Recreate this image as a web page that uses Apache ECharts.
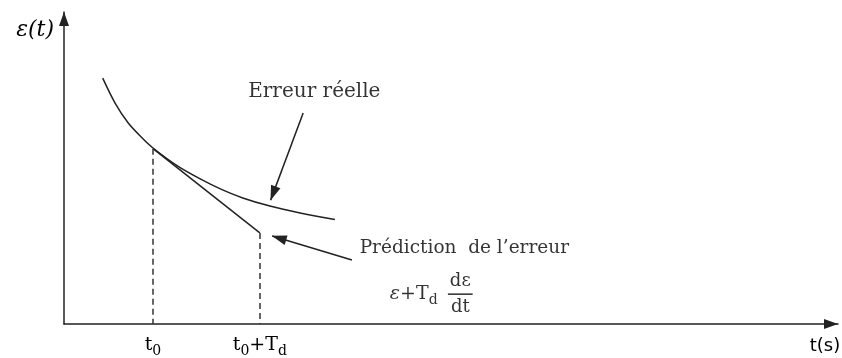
<!DOCTYPE html>
<html>
<head>
<meta charset="utf-8">
<script src="https://cdn.jsdelivr.net/npm/echarts@6/dist/echarts.min.js"></script>
<style>
html, body { margin: 0; padding: 0; background: #fff; }
#chart { width: 842px; height: 358px; }
</style>
</head>
<body>
<div id="chart"></div>
<script>
// erreur réelle, points (unités arbitraires 0..100)
var errX = [5.0, 6.6, 8.3, 10.1, 11.5, 14.7, 17.6, 20.2, 23.1, 26.6, 30.5, 35.0];
var errY = [78.8, 70.8, 64.4, 59.6, 56.4, 50.6, 46.5, 43.3, 40.4, 37.8, 35.6, 33.5];
// instants t0 et t0+Td sur l'axe
var tickVals = [11.5, 25.3];
var tickNames = ['t{s|0}', 't{s|0}+T{s|d}'];
// prédiction (tangente) : valeur en t0 puis en t0+Td
var predY = [56.2, 29.2];
// flèches [queue, pointe]
var arrowReal = [[30.9, 67.6], [26.7, 39.7]];
var arrowPred = [[37.2, 20.5], [26.9, 28.2]];
// ancres des textes
var txtReal = [23.8, 74.4];
var txtPred = [38.2, 24.4];
var txtFormula = [42.1, 9.6];
var txtFrac = [51.2, 9.4];
var fracBar = [[49.6, 9.6], [52.8, 9.6]];

var ink = '#222';
var serif = 'DejaVu Serif';
var subRich = {
    s: { fontSize: 14, lineHeight: 14, verticalAlign: 'bottom', fontFamily: serif, color: '#000' }
};

var curve = [];
for (var i = 0; i < errX.length; i++) {
    curve.push([errX[i], errY[i]]);
}

var chart = echarts.init(document.getElementById('chart'));
chart.setOption({
    animation: false,
    grid: {
        left: 64,
        right: 4,
        top: 12,
        bottom: 34,
        containLabel: false,
        outerBoundsMode: 'none'
    },
    xAxis: {
        type: 'value',
        min: 0,
        max: 100,
        splitLine: { show: false },
        axisTick: { show: false },
        axisLine: {
            lineStyle: { color: ink, width: 1.5 },
            symbol: ['none', 'triangle'],
            symbolSize: [10, 14],
            symbolOffset: [0, -7]
        },
        axisLabel: {
            customValues: tickVals,
            margin: 8,
            fontFamily: serif,
            fontSize: 19,
            lineHeight: 26,
            color: '#000',
            rich: subRich,
            formatter: function (v) {
                var k = tickVals.indexOf(v);
                return k < 0 ? '' : tickNames[k];
            }
        },
        name: 't(s)',
        nameLocation: 'end',
        nameGap: -13,
        nameTextStyle: {
            fontFamily: 'DejaVu Sans',
            fontSize: 18,
            color: '#000',
            align: 'center',
            verticalAlign: 'top',
            padding: [13, 0, 0, 0]
        }
    },
    yAxis: {
        type: 'value',
        min: 0,
        max: 100,
        splitLine: { show: false },
        axisTick: { show: false },
        axisLabel: { show: false },
        axisLine: {
            lineStyle: { color: ink, width: 1.5 },
            symbol: ['none', 'triangle'],
            symbolSize: [10, 14],
            symbolOffset: [0, -7]
        },
        name: 'ε(t)',
        nameLocation: 'end',
        nameGap: -18,
        nameTextStyle: {
            fontFamily: serif,
            fontStyle: 'italic',
            fontSize: 22,
            color: '#000',
            align: 'right',
            verticalAlign: 'middle',
            padding: [0, 10, 0, 0]
        }
    },
    series: [
        {
            name: 'Erreur réelle',
            type: 'line',
            data: curve,
            smooth: 0.3,
            showSymbol: false,
            silent: true,
            lineStyle: { color: ink, width: 1.5 }
        },
        {
            name: 'Prédiction',
            type: 'line',
            data: [[tickVals[0], predY[0]], [tickVals[1], predY[1]]],
            showSymbol: false,
            silent: true,
            lineStyle: { color: ink, width: 1.5 },
            markLine: {
                silent: true,
                symbol: 'none',
                label: { show: false },
                lineStyle: { color: '#333', width: 1.5, type: [6, 4] },
                data: [
                    [{ coord: [tickVals[0], predY[0]] }, { coord: [tickVals[0], 0] }],
                    [{ coord: [tickVals[1], predY[1]] }, { coord: [tickVals[1], 0] }]
                ]
            }
        },
        {
            name: 'barre',
            type: 'line',
            data: fracBar,
            showSymbol: false,
            silent: true,
            lineStyle: { color: '#000', width: 1.2 }
        },
        {
            name: 'annotations',
            type: 'scatter',
            symbolSize: 0,
            silent: true,
            label: {
                show: true,
                position: 'right',
                distance: 0,
                fontFamily: serif,
                fontSize: 18.5,
                color: '#000'
            },
            data: [
                { value: txtReal, label: { formatter: 'Erreur réelle', fontSize: 20 } },
                { value: txtPred, label: { formatter: 'Prédiction  de l’erreur' } },
                {
                    value: txtFormula,
                    label: {
                        formatter: '{e|ε}+T{s|d}',
                        fontSize: 19,
                        lineHeight: 26,
                        rich: {
                            e: { fontSize: 19, fontStyle: 'italic', fontFamily: serif, color: '#000', lineHeight: 26 },
                            s: subRich.s
                        }
                    }
                },
                {
                    value: txtFrac,
                    label: {
                        position: 'inside',
                        align: 'center',
                        verticalAlign: 'middle',
                        fontSize: 18,
                        lineHeight: 26,
                        formatter: 'dε\ndt'
                    }
                }
            ],
            markLine: {
                silent: true,
                symbol: ['none', 'triangle'],
                symbolSize: [10, 15],
                symbolOffset: [0, [0, 7]],
                label: { show: false },
                lineStyle: { color: ink, width: 1.5, type: 'solid' },
                data: [
                    [{ coord: arrowReal[0] }, { coord: arrowReal[1] }],
                    [{ coord: arrowPred[0] }, { coord: arrowPred[1] }]
                ]
            }
        }
    ]
});
</script>
</body>
</html>
